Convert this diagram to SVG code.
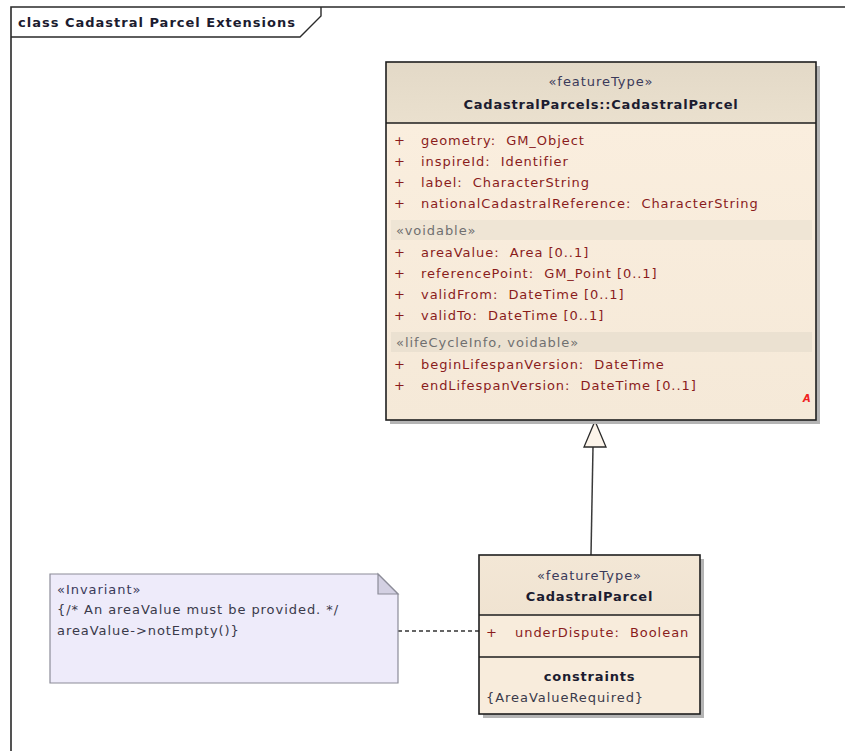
<svg xmlns="http://www.w3.org/2000/svg" width="845" height="751" viewBox="0 0 845 751">
<style>
text{font-family:"DejaVu Sans","Liberation Sans",sans-serif;font-size:13px;letter-spacing:0.95px;white-space:pre}
.b{font-weight:bold;fill:#1c1c30;letter-spacing:0.8px}
.st{fill:#3a3a5a}
.at{fill:#8a1c1c}
.gr{fill:#707070}
.nt{fill:#3a3a4a}
.c{text-anchor:middle}
.bd{stroke:#1e1e1e;stroke-width:1.6;fill:none}
.sh{fill:#b4b4b4}
</style>
<defs>
<linearGradient id="hdr" x1="0" y1="0" x2="0" y2="1"><stop offset="0" stop-color="#e3d9c7"/><stop offset="1" stop-color="#eae0ce"/></linearGradient>
<linearGradient id="bod" x1="0" y1="0" x2="0" y2="1"><stop offset="0" stop-color="#faeede"/><stop offset="1" stop-color="#f5e9d8"/></linearGradient>
<linearGradient id="hdr2" x1="0" y1="0" x2="0" y2="1"><stop offset="0" stop-color="#f3e7d6"/><stop offset="1" stop-color="#f0e3d1"/></linearGradient>
</defs>

<g id="frame">
<path d="M11,751 V7 H845" fill="none" stroke="#2a2a2a" stroke-width="1.6"/>
<path d="M11,37 H300 L321,16 V7" fill="none" stroke="#2a2a2a" stroke-width="1.4"/>
<text x="18" y="27" class="b" style="letter-spacing:1px">class Cadastral Parcel Extensions</text>
</g>

<g id="connectors">
<line x1="593" y1="447" x2="591" y2="555" stroke="#3a3a3a" stroke-width="1.5"/>
<polygon points="595,421 606,447 584,447" fill="#fcf4ea" stroke="#2a2a2a" stroke-width="1.3"/>
<line x1="398" y1="631" x2="479" y2="631" stroke="#333" stroke-width="1.3" stroke-dasharray="4,3"/>
</g>

<g id="parent">
<rect x="390" y="66" width="430" height="358" class="sh"/>
<rect x="386" y="62" width="430" height="61" fill="url(#hdr)"/>
<rect x="386" y="123" width="430" height="297" fill="url(#bod)"/>
<rect x="391" y="220" width="421" height="20" fill="#efe5d5"/>
<rect x="391" y="332" width="421" height="20" fill="#ebe1d1"/>
<rect x="386" y="62" width="430" height="358" class="bd"/>
<line x1="386" y1="123" x2="816" y2="123" stroke="#1e1e1e" stroke-width="1.4"/>
<text x="601" y="86" class="st c">«featureType»</text>
<text x="601" y="109" class="b c">CadastralParcels::CadastralParcel</text>
<g class="at">
<text x="394" y="145">+</text><text x="421" y="145">geometry:  GM_Object</text>
<text x="394" y="166">+</text><text x="421" y="166">inspireId:  Identifier</text>
<text x="394" y="187">+</text><text x="421" y="187">label:  CharacterString</text>
<text x="394" y="208">+</text><text x="421" y="208">nationalCadastralReference:  CharacterString</text>
</g>
<text x="396" y="235" class="gr">«voidable»</text>
<g class="at">
<text x="394" y="257">+</text><text x="421" y="257">areaValue:  Area [0..1]</text>
<text x="394" y="278">+</text><text x="421" y="278">referencePoint:  GM_Point [0..1]</text>
<text x="394" y="299">+</text><text x="421" y="299">validFrom:  DateTime [0..1]</text>
<text x="394" y="320">+</text><text x="421" y="320">validTo:  DateTime [0..1]</text>
</g>
<text x="396" y="347" class="gr">«lifeCycleInfo, voidable»</text>
<g class="at">
<text x="394" y="369">+</text><text x="421" y="369">beginLifespanVersion:  DateTime</text>
<text x="394" y="390">+</text><text x="421" y="390">endLifespanVersion:  DateTime [0..1]</text>
</g>
<text x="803" y="402" style="font-size:10px;font-style:italic;font-weight:bold;fill:#f02020;letter-spacing:0">A</text>
</g>

<g id="child">
<rect x="483" y="559" width="221" height="159" class="sh"/>
<rect x="479" y="555" width="221" height="60" fill="url(#hdr2)"/>
<rect x="479" y="615" width="221" height="99" fill="#f8ecdc"/>
<rect x="479" y="555" width="221" height="159" class="bd"/>
<line x1="479" y1="615" x2="700" y2="615" stroke="#1e1e1e" stroke-width="1.4"/>
<line x1="479" y1="657" x2="700" y2="657" stroke="#1e1e1e" stroke-width="1.4"/>
<text x="589.5" y="580" class="st c">«featureType»</text>
<text x="589.5" y="601" class="b c">CadastralParcel</text>
<text x="486" y="637" class="at">+</text>
<text x="515" y="637" class="at">underDispute:  Boolean</text>
<text x="589.5" y="681" class="b c">constraints</text>
<text x="486" y="702" class="nt">{AreaValueRequired}</text>
</g>

<g id="note">
<path d="M50,574 H378 L398,594 V683 H50 Z" fill="#eeebfa" stroke="#8c8c98" stroke-width="1.2"/>
<path d="M378,574 V594 H398 Z" fill="#d3d0e2" stroke="#8c8c98" stroke-width="1.2"/>
<text x="57" y="594" class="st">«Invariant»</text>
<text x="57" y="614" class="nt">{/* An areaValue must be provided. */</text>
<text x="57" y="635" class="nt">areaValue-&gt;notEmpty()}</text>
</g>
</svg>
